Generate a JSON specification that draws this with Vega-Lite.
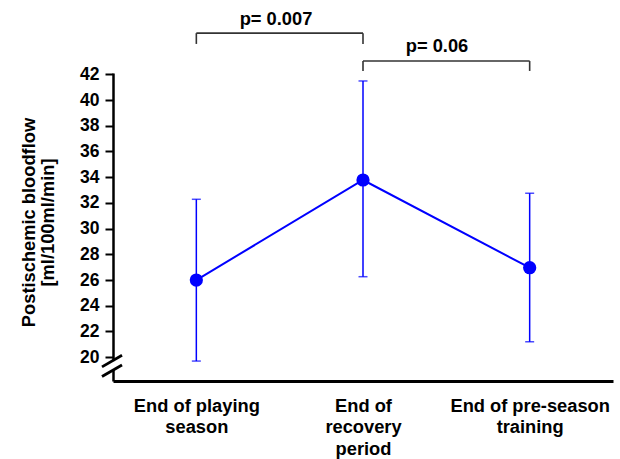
{
  "$schema": "https://vega.github.io/schema/vega-lite/v6.json",
  "width": 500,
  "height": 308,
  "autosize": "none",
  "padding": {"left": 113, "top": 73, "right": 7, "bottom": 78},
  "background": "white",
  "config": {
    "view": {"stroke": null},
    "font": "Liberation Sans",
    "axis": {"labelFont": "Liberation Sans", "titleFont": "Liberation Sans", "labelColor": "black", "titleColor": "black"}
  },
  "datasets": {
    "pts": [
      {"x": 1, "mean": 26.0, "lo": 19.7, "hi": 32.28},
      {"x": 2, "mean": 33.78, "lo": 26.26, "hi": 41.48},
      {"x": 3, "mean": 26.96, "lo": 21.2, "hi": 32.75}
    ],
    "brackets": [
      {"x": 1, "x2": 2, "y": 45.2, "y2": 45.2},
      {"x": 1, "x2": 1, "y": 45.2, "y2": 44.36},
      {"x": 2, "x2": 2, "y": 45.2, "y2": 44.36},
      {"x": 2, "x2": 3, "y": 43.03, "y2": 43.03},
      {"x": 2, "x2": 2, "y": 43.03, "y2": 42.26},
      {"x": 3, "x2": 3, "y": 43.03, "y2": 42.26}
    ],
    "ptext": [
      {"x": 1.478, "y": 45.83, "t": "p= 0.007"},
      {"x": 2.444, "y": 43.76, "t": "p= 0.06"}
    ],
    "gap": [{"x": 0.47, "x2": 0.53, "y": 19.0, "y2": 19.7}],
    "slashes": [
      {"x": 0.434, "x2": 0.554, "y": 19.25, "y2": 20.15},
      {"x": 0.434, "x2": 0.554, "y": 18.5, "y2": 19.4}
    ]
  },
  "encoding": {
    "x": {
      "field": "x", "type": "quantitative",
      "scale": {"domain": [0.5, 3.5], "nice": false, "zero": false},
      "axis": {
        "values": [1, 2, 3], "ticks": false, "grid": false, "title": null,
        "domainWidth": 3, "domainColor": "black",
        "labelExpr": "datum.value == 1 ? ['End of playing', 'season'] : datum.value == 2 ? ['End of', 'recovery', 'period'] : ['End of pre-season', 'training']",
        "labelFontSize": 18.3, "labelFontWeight": "bold", "labelLineHeight": 21.5,
        "labelPadding": 16, "labelOverlap": false, "labelFlush": false
      }
    },
    "y": {
      "field": "y", "type": "quantitative",
      "scale": {"domain": [18.15, 42.1], "nice": false, "zero": false},
      "axis": {
        "values": [20, 22, 24, 26, 28, 30, 32, 34, 36, 38, 40, 42],
        "grid": false, "tickSize": 8, "tickWidth": 2, "tickColor": "black",
        "domainWidth": 2.5, "domainColor": "black",
        "labelPadding": 6, "labelFontSize": 17.5, "labelFontWeight": "bold",
        "title": ["Postischemic bloodflow", "[ml/100ml/min]"],
        "titleFontSize": 18.3, "titleFontWeight": "bold", "titleLineHeight": 19,
        "titleX": -79, "titleY": 149, "titleAngle": -90, "titleAlign": "center", "titleBaseline": "alphabetic"
      }
    }
  },
  "layer": [
    {
      "data": {"name": "brackets"},
      "mark": {"type": "rule", "color": "#333333", "strokeWidth": 1.6},
      "encoding": {"x": {"field": "x", "type": "quantitative"}, "x2": {"field": "x2"}, "y": {"field": "y", "type": "quantitative"}, "y2": {"field": "y2"}}
    },
    {
      "data": {"name": "ptext"},
      "mark": {"type": "text", "fontSize": 18.3, "fontWeight": "bold", "font": "Liberation Sans", "color": "black", "baseline": "alphabetic", "align": "center"},
      "encoding": {"x": {"field": "x", "type": "quantitative"}, "y": {"field": "y", "type": "quantitative"}, "text": {"field": "t"}}
    },
    {
      "data": {"name": "gap"},
      "mark": {"type": "rect", "color": "white"},
      "encoding": {"x": {"field": "x", "type": "quantitative"}, "x2": {"field": "x2"}, "y": {"field": "y", "type": "quantitative"}, "y2": {"field": "y2"}}
    },
    {
      "data": {"name": "slashes"},
      "mark": {"type": "rule", "color": "black", "strokeWidth": 2.8},
      "encoding": {"x": {"field": "x", "type": "quantitative"}, "x2": {"field": "x2"}, "y": {"field": "y", "type": "quantitative"}, "y2": {"field": "y2"}}
    },
    {
      "data": {"name": "pts"},
      "mark": {"type": "line", "color": "#0000ff", "strokeWidth": 2},
      "encoding": {"x": {"field": "x", "type": "quantitative"}, "y": {"field": "mean", "type": "quantitative"}}
    },
    {
      "data": {"name": "pts"},
      "mark": {"type": "rule", "color": "#0000ff", "strokeWidth": 1.5},
      "encoding": {"x": {"field": "x", "type": "quantitative"}, "y": {"field": "lo", "type": "quantitative"}, "y2": {"field": "hi"}}
    },
    {
      "data": {"name": "pts"},
      "mark": {"type": "tick", "orient": "horizontal", "color": "#0000ff", "size": 9, "thickness": 1.5},
      "encoding": {"x": {"field": "x", "type": "quantitative"}, "y": {"field": "lo", "type": "quantitative"}}
    },
    {
      "data": {"name": "pts"},
      "mark": {"type": "tick", "orient": "horizontal", "color": "#0000ff", "size": 9, "thickness": 1.5},
      "encoding": {"x": {"field": "x", "type": "quantitative"}, "y": {"field": "hi", "type": "quantitative"}}
    },
    {
      "data": {"name": "pts"},
      "mark": {"type": "point", "filled": true, "shape": "circle", "color": "#0000ff", "opacity": 1, "size": 175},
      "encoding": {"x": {"field": "x", "type": "quantitative"}, "y": {"field": "mean", "type": "quantitative"}}
    }
  ]
}
